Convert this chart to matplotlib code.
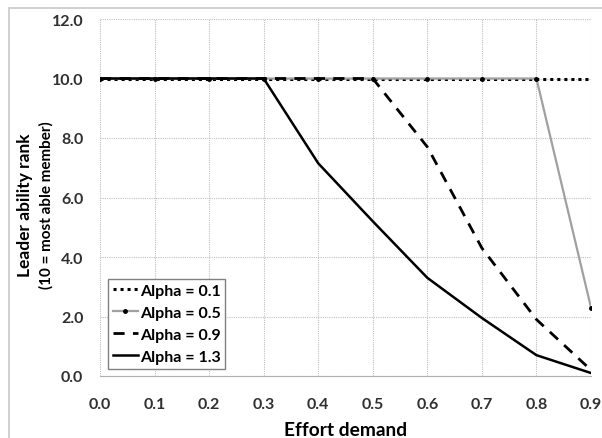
import matplotlib
matplotlib.use("Agg")
import matplotlib.pyplot as plt
import matplotlib.patches as patches

plt.rcParams['font.family'] = ['Lato', 'DejaVu Sans']

effort = [0.0, 0.1, 0.2, 0.3, 0.4, 0.5, 0.6, 0.7, 0.8, 0.9]
alpha_01 = [10, 10, 10, 10, 10, 10, 10, 10, 10, 10]
alpha_05 = [10, 10, 10, 10, 10, 10, 10, 10, 10, 2.3]
alpha_09 = [10, 10, 10, 10, 10, 10, 7.7, 4.3, 1.9, 0.2]
alpha_13 = [10, 10, 10, 10, 7.15, 5.2, 3.3, 1.95, 0.7, 0.1]
labels = ["Alpha = 0.1", "Alpha = 0.5", "Alpha = 0.9", "Alpha = 1.3"]
yticks = [0, 2, 4, 6, 8, 10, 12]

fig = plt.figure(figsize=(6.02, 4.39), dpi=100)
# light outer frame like the spreadsheet chart area
fig.patches.append(patches.Rectangle((9 / 602, -0.05), 1.1, 1 - 9 / 439 + 0.05,
                                     transform=fig.transFigure, fill=False,
                                     edgecolor="#c8c8c8", linewidth=1.2))
ax = fig.add_axes([100 / 602, 1 - 377 / 439, 491 / 602, 357 / 439])

ax.plot(effort, alpha_01, color="black", linestyle=(0, (1, 1.3)), linewidth=2.2, label=labels[0])
ax.plot(effort, alpha_05, color="#a0a0a0", linewidth=1.6, marker="o", markersize=2.5,
        markerfacecolor="black", markeredgecolor="black", label=labels[1])
ax.plot(effort, alpha_09, color="black", linestyle=(0, (4, 3)), linewidth=2.0, label=labels[2])
ax.plot(effort, alpha_13, color="black", linewidth=1.8, label=labels[3])

ax.set_xlim(0, 0.9)
ax.set_ylim(0, 12)
ax.set_xticks(effort)
ax.set_xticklabels([f"{v:.1f}" for v in effort])
ax.set_yticks(yticks)
ax.set_yticklabels([f"{v:.1f}" for v in yticks])
ax.grid(True, color="#c0c0c0", linestyle=(0, (1, 1)), linewidth=0.8)
ax.set_axisbelow(True)
for s in ax.spines.values():
    s.set_visible(False)
ax.spines['bottom'].set_visible(True)
ax.spines['bottom'].set_color("#b0b0b0")
ax.tick_params(length=0, labelsize=11.5)
ax.tick_params(axis="x", pad=15)
ax.tick_params(axis="y", pad=12)
for t in ax.get_xticklabels() + ax.get_yticklabels():
    t.set_fontweight("bold")
    t.set_color("#303030")

ax.set_xlabel("Effort demand", fontsize=13.8, fontweight="bold", labelpad=7)
fig.text(25 / 602, 1 - 205 / 439, "Leader ability rank", rotation=90, fontsize=12.5,
         fontweight="bold", ha="center", va="center")
fig.text(46 / 602, 1 - 205 / 439, "(10 = most able member)", rotation=90, fontsize=11,
         fontweight="bold", ha="center", va="center")

leg = ax.legend(loc="lower left", bbox_to_anchor=(0.016, 0.02), borderaxespad=0,
                fontsize=11.5, handlelength=1.6, handletextpad=0.1, labelspacing=0.5,
                borderpad=0.3, fancybox=False, edgecolor="#808080", framealpha=1)
leg.get_frame().set_linewidth(1.0)
for t in leg.get_texts():
    t.set_fontweight("bold")

fig.savefig("out.png", dpi=100)
